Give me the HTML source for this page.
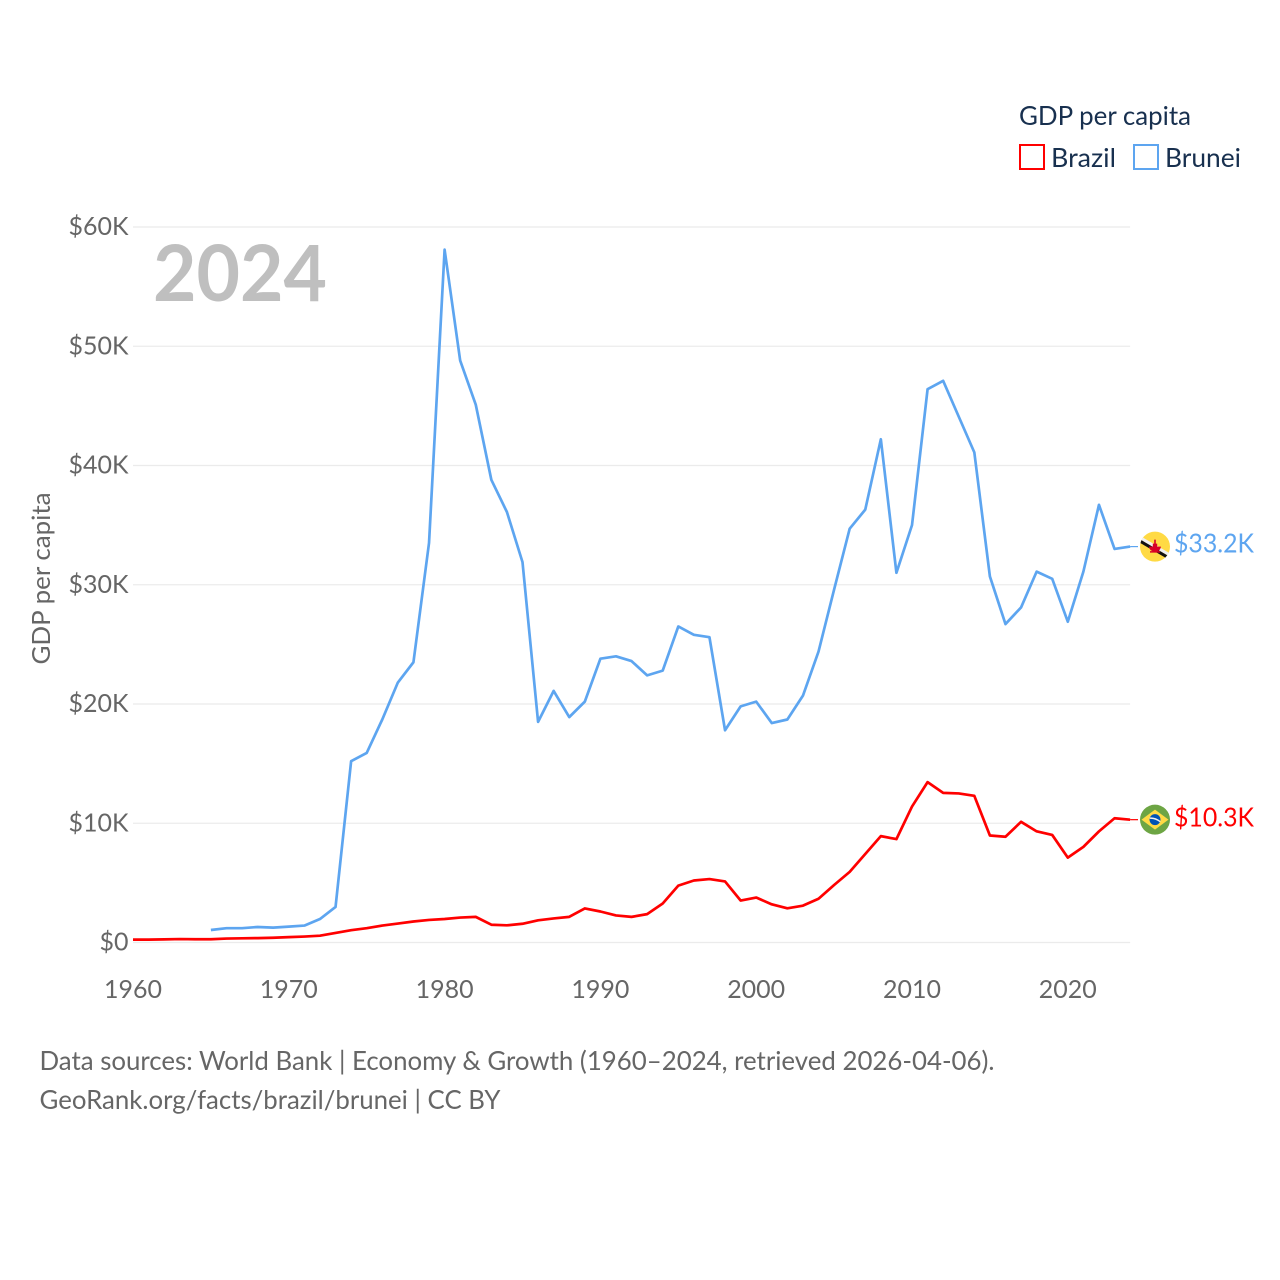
<!DOCTYPE html>
<html lang="en">
<head>
<meta charset="utf-8">
<title>GDP per capita: Brazil and Brunei</title>
<style>
html,body{margin:0;padding:0;background:#fff;width:1280px;height:1280px;overflow:hidden}
svg{display:block}
text{font-family:"Lato","Carlito","Liberation Sans",sans-serif}
</style>
</head>
<body>
<svg id="chart" xmlns="http://www.w3.org/2000/svg" width="1280" height="1280" viewBox="0 0 1280 1280">
  <g id="grid"></g>
  <g id="y-ticks"></g>
  <g id="x-ticks"></g>
  <text x="153" y="301" font-size="78" font-weight="700" fill="#bfbfbf" textLength="174" lengthAdjust="spacingAndGlyphs">2024</text>
  <text transform="translate(50,664.5) rotate(-90)" font-size="25" fill="#666666" textLength="172" lengthAdjust="spacingAndGlyphs">GDP per capita</text>
  <g id="series"></g>
  <g>
    <text x="1019" y="125" font-size="26" fill="#18304f" textLength="172" lengthAdjust="spacingAndGlyphs">GDP per capita</text>
    <g>
      <rect x="1020" y="145" width="24" height="24" fill="none" stroke="#ff0000" stroke-width="2"></rect>
      <text x="1051" y="167" font-size="26" fill="#18304f" textLength="65" lengthAdjust="spacingAndGlyphs">Brazil</text>
    </g>
    <g>
      <rect x="1134" y="145" width="24" height="24" fill="none" stroke="#5da5f0" stroke-width="2"></rect>
      <text x="1165" y="167" font-size="26" fill="#18304f" textLength="76" lengthAdjust="spacingAndGlyphs">Brunei</text>
    </g>
  </g>
  <g id="flag-brunei">
    <clipPath id="brunei-clip"><circle cx="0" cy="0" r="15"></circle></clipPath>
    <circle r="15" fill="#ffda44"></circle>
    <g clip-path="url(#brunei-clip)">
      <path d="M-18,-12.5 L18,8.5 L18,12 L-18,-9 Z" fill="#f0f0f0"></path>
      <path d="M-18,-9 L18,12 L18,15.5 L-18,-5.5 Z" fill="#111111"></path>
      <path d="M-0.8,-7 H0.8 V-3 H2.2 V0 H6 Q5.5,3.5 2.5,4.5 H5 V6 H-5 V4.5 H-2.5 Q-5.5,3.5 -6,0 H-2.2 V-3 H-0.8 Z" fill="#d80027"></path>
    </g>
  </g>
  <g id="flag-brazil">
    <circle r="15" fill="#6da544"></circle>
    <path d="M-13.5,0 L0,-10 L13.5,0 L0,10 Z" fill="#ffda44"></path>
    <circle r="5.5" fill="#0052b4"></circle>
    <path d="M-5.3,-1.5 Q0,-2 5.2,2" fill="none" stroke="#f0f0f0" stroke-width="1.4"></path>
  </g>
  <text id="label-brunei" x="1174" font-size="26" fill="#5da5f0" textLength="80" lengthAdjust="spacingAndGlyphs"></text>
  <text id="label-brazil" x="1174" font-size="26" fill="#ff0000" textLength="80" lengthAdjust="spacingAndGlyphs"></text>
  <g>
    <text x="39.5" y="1070" font-size="26" fill="#666666" textLength="955" lengthAdjust="spacingAndGlyphs">Data sources: World Bank | Economy &amp; Growth (1960–2024, retrieved 2026-04-06).</text>
    <text x="39.5" y="1109" font-size="26" fill="#666666" textLength="461" lengthAdjust="spacingAndGlyphs">GeoRank.org/facts/brazil/brunei | CC BY</text>
  </g>
</svg>
<script>
const years = [1960,1961,1962,1963,1964,1965,1966,1967,1968,1969,1970,1971,1972,1973,1974,1975,1976,1977,1978,1979,1980,1981,1982,1983,1984,1985,1986,1987,1988,1989,1990,1991,1992,1993,1994,1995,1996,1997,1998,1999,2000,2001,2002,2003,2004,2005,2006,2007,2008,2009,2010,2011,2012,2013,2014,2015,2016,2017,2018,2019,2020,2021,2022,2023,2024];
const brazilValues = [0.24,0.24,0.26,0.29,0.27,0.27,0.33,0.35,0.37,0.4,0.45,0.5,0.57,0.8,1.03,1.2,1.42,1.59,1.76,1.89,1.97,2.09,2.15,1.49,1.44,1.57,1.86,2.02,2.15,2.86,2.6,2.27,2.15,2.38,3.27,4.77,5.2,5.32,5.12,3.52,3.77,3.2,2.87,3.09,3.67,4.82,5.92,7.42,8.92,8.67,11.4,13.45,12.55,12.5,12.3,8.97,8.87,10.12,9.32,9.02,7.12,8.02,9.32,10.42,10.3];
const bruneiValues = [null,null,null,null,null,1.05,1.2,1.2,1.3,1.25,1.33,1.42,1.97,2.98,15.2,15.9,18.7,21.8,23.5,33.5,58.1,48.8,45.1,38.8,36.1,31.9,18.5,21.1,18.9,20.2,23.8,24.0,23.6,22.4,22.8,26.5,25.8,25.6,17.8,19.8,20.2,18.4,18.7,20.7,24.4,29.6,34.7,36.3,42.2,31.0,35.0,46.4,47.1,44.1,41.1,30.7,26.7,28.1,31.1,30.5,26.9,31.1,36.7,33.0,33.2];
const yTickValues = [0,10,20,30,40,50,60];
const yTickLabels = ['$0','$10K','$20K','$30K','$40K','$50K','$60K'];
const xTickValues = [1960,1970,1980,1990,2000,2010,2020];

const SVG_NS = 'http://www.w3.org/2000/svg';
const xScale = function (year) { return 133 + (year - 1960) * 15.58; };
const yScale = function (v) { return 942.5 - v * 11.925; };
const PLOT_RIGHT = xScale(2024);
const FLAG_X = 1155;
const CONNECTOR_END = 1138;

function create(tag, attrs, parent) {
  const el = document.createElementNS(SVG_NS, tag);
  Object.keys(attrs).forEach(function (k) { el.setAttribute(k, attrs[k]); });
  parent.appendChild(el);
  return el;
}
function linePath(values) {
  let d = '';
  let started = false;
  values.forEach(function (v, i) {
    if (v === null) return;
    d += (started ? 'L' : 'M') + xScale(years[i]).toFixed(2) + ',' + yScale(v).toFixed(2);
    started = true;
  });
  return d;
}

const gridGroup = document.getElementById('grid');
const yTickGroup = document.getElementById('y-ticks');
const xTickGroup = document.getElementById('x-ticks');
const seriesGroup = document.getElementById('series');

yTickValues.forEach(function (v, i) {
  const gridline = create('line', {x1: 133, x2: PLOT_RIGHT, y1: yScale(v), y2: yScale(v), stroke: '#ebebeb', 'stroke-width': 1.2}, gridGroup);
  
  
  const yLabel = create('text', {x: 128.5, y: yScale(v) + 8, 'text-anchor': 'end', 'font-size': 25, fill: '#666666', textLength: yTickLabels[i].length === 2 ? 29 : 60, lengthAdjust: 'spacingAndGlyphs'}, yTickGroup);
  
  
  yLabel.textContent = yTickLabels[i];
});

xTickValues.forEach(function (year) {
  const xLabel = create('text', {x: xScale(year), y: 998, 'text-anchor': 'middle', 'font-size': 25, fill: '#666666', textLength: 58, lengthAdjust: 'spacingAndGlyphs'}, xTickGroup);
  
  
  xLabel.textContent = String(year);
});

const bruneiLine = create('path', {d: linePath(bruneiValues), fill: 'none', stroke: '#5da5f0', 'stroke-width': 2.7, 'stroke-linejoin': 'round'}, seriesGroup);


const brazilLine = create('path', {d: linePath(brazilValues), fill: 'none', stroke: '#ff0000', 'stroke-width': 2.7, 'stroke-linejoin': 'round'}, seriesGroup);



const lastBrunei = bruneiValues[bruneiValues.length - 1];
const lastBrazil = brazilValues[brazilValues.length - 1];

const bruneiConnector = create('line', {x1: PLOT_RIGHT, x2: CONNECTOR_END, y1: yScale(lastBrunei), y2: yScale(lastBrunei), stroke: '#5da5f0', 'stroke-width': 1.2}, seriesGroup);


const brazilConnector = create('line', {x1: PLOT_RIGHT, x2: CONNECTOR_END, y1: yScale(lastBrazil), y2: yScale(lastBrazil), stroke: '#ff0000', 'stroke-width': 1.2}, seriesGroup);



document.getElementById('flag-brunei').setAttribute('transform', 'translate(' + FLAG_X + ',' + yScale(lastBrunei) + ')');
document.getElementById('flag-brazil').setAttribute('transform', 'translate(' + FLAG_X + ',' + yScale(lastBrazil) + ')');

const bruneiLabel = document.getElementById('label-brunei');
bruneiLabel.setAttribute('y', yScale(lastBrunei) + 6);
bruneiLabel.textContent = '$' + lastBrunei.toFixed(1) + 'K';
const brazilLabel = document.getElementById('label-brazil');
brazilLabel.setAttribute('y', yScale(lastBrazil) + 7);
brazilLabel.textContent = '$' + lastBrazil.toFixed(1) + 'K';
</script>
</body>
</html>
